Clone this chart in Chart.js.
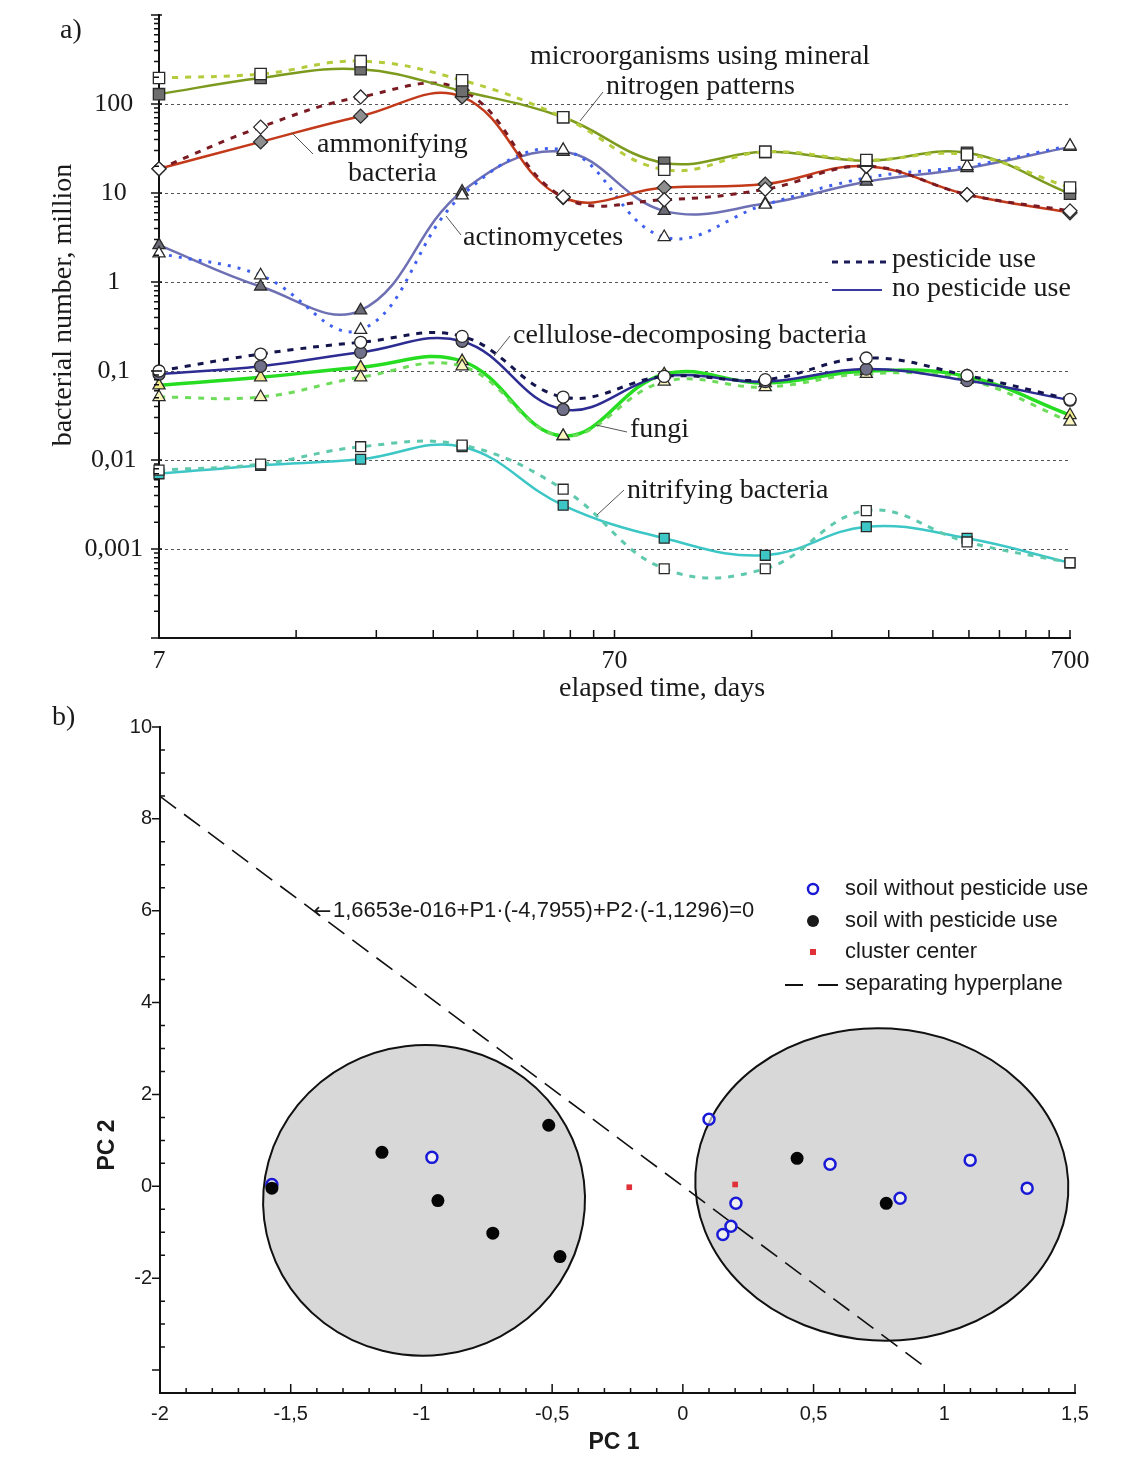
<!DOCTYPE html>
<html>
<head>
<meta charset="utf-8">
<script src="https://cdn.jsdelivr.net/npm/chart.js@4.4.1/dist/chart.umd.min.js"></script>
<style>
  body { margin: 0; background: #fff; }
  .wrap { position: absolute; left: 0; width: 1143px; }
  #wrapA { top: 0; height: 705px; }
  #wrapB { top: 705px; height: 752px; }
</style>
</head>
<body>
<div class="wrap" id="wrapA"><canvas id="growthChart" width="1143" height="705"></canvas></div>
<div class="wrap" id="wrapB"><canvas id="pcaChart" width="1143" height="752"></canvas></div>
<script>
// ---------- a) bacterial number vs elapsed time ----------
const days = [7, 11.7, 19.4, 32.4, 54, 90, 150, 250, 416, 700];

const mineralNo   = [129, 196, 246, 140, 71, 21.8, 29, 23, 28.3, 9.8];
const mineralPest = [196, 217, 303, 185, 71, 18.3, 29, 23.5, 27, 11.5];
const ammonNo     = [18.7, 37.5, 73, 120, 8.9, 11.5, 12.6, 20, 9.6, 6.0];
const ammonPest   = [18.7, 55, 120, 143, 9, 8.4, 11, 20, 9.6, 6.3];
const actinoNo    = [2.6, 0.89, 0.48, 10.4, 29, 6.3, 7.6, 13.4, 19, 33];
const actinoPest  = [2.1, 1.19, 0.29, 9.4, 30.5, 3.2, 7.4, 14.8, 20, 34];
const celluNo     = [0.092, 0.113, 0.162, 0.216, 0.037, 0.087, 0.076, 0.105, 0.078, 0.047];
const celluPest   = [0.1, 0.155, 0.21, 0.245, 0.051, 0.087, 0.08, 0.14, 0.089, 0.048];
const fungiNo     = [0.069, 0.085, 0.11, 0.129, 0.0186, 0.092, 0.073, 0.1, 0.087, 0.032];
const fungiPest   = [0.051, 0.051, 0.085, 0.113, 0.0186, 0.076, 0.066, 0.093, 0.08, 0.027];
const nitriNo     = [0.007, 0.0087, 0.0102, 0.0141, 0.0031, 0.00132, 0.00085, 0.00178, 0.00132, 0.0007];
const nitriPest   = [0.0077, 0.009, 0.0141, 0.0147, 0.0047, 0.0006, 0.0006, 0.0027, 0.0012, 0.0007];

const dayTicks = [7, 70, 700];
const dayMinorTicks = [14, 21, 28, 35, 42, 49, 56, 63, 140, 210, 280, 350, 420, 490, 560, 630];
const countTicks = [0.001, 0.01, 0.1, 1, 10, 100];
const countTickLabels = ['0,001', '0,01', '0,1', '1', '10', '100'];

// ---------- b) PCA ----------
const withoutP1 = [-1.572, -0.96, 0.1, 0.203, 0.184, 0.153, 0.563, 0.831, 1.099, 1.317];
const withoutP2 = [0.04, 0.63, 1.46, -0.37, -0.87, -1.05, 0.48, -0.26, 0.57, -0.04];
const withP1 = [-1.572, -1.151, -0.937, -0.727, -0.513, -0.47, 0.437, 0.778];
const withP2 = [-0.04, 0.74, -0.31, -1.02, 1.33, -1.53, 0.61, -0.37];
const centerP1 = [-0.205, 0.2];
const centerP2 = [-0.02, 0.04];
const planeCoef = [1.6653e-16, -4.7955, -1.1296];   // b0 + b1*P1 + b2*P2 = 0
const planeP1 = [-2, 0.92];
const pcaXTicks = [-2, -1.5, -1, -0.5, 0, 0.5, 1, 1.5];
const pcaYTicks = [-2, 0, 2, 4, 6, 8, 10];

const serif = 'Liberation Serif, Times New Roman, serif';
const sans = 'Liberation Sans, Arial, sans-serif';

function series(values) {
    return days.map((d, i) => ({ x: d, y: values[i] }));
}

function pair(no, pest, o) {
    const common = { fill: false, tension: 0.4, clip: false, pointBorderColor: '#2a2a2a', pointBorderWidth: 1.3, pointStyle: o.marker, pointRadius: o.radius, pointHoverRadius: o.radius };
    return [
        Object.assign({}, common, {
            label: 'pesticide use', data: series(pest),
            borderColor: o.pestColor, borderWidth: 3, borderDash: o.dash || [6, 7],
            pointBackgroundColor: o.openFill || '#ffffff'
        }),
        Object.assign({}, common, {
            label: 'no pesticide use', data: series(no),
            borderColor: o.color, borderWidth: o.width || 2.5,
            pointBackgroundColor: o.fill
        })
    ];
}

const growthDatasets = [
    ...pair(mineralNo, mineralPest, { marker: 'rect', radius: 8, color: '#7c9a1e', pestColor: '#b4cc3c', fill: '#6e6e6e' }),
    ...pair(ammonNo, ammonPest, { marker: 'rectRot', radius: 7, color: '#c23a1a', pestColor: '#7a1a22', fill: '#8e8e8e' }),
    ...pair(actinoNo, actinoPest, { marker: 'triangle', radius: 7, color: '#6e70b4', pestColor: '#3f5ff0', fill: '#6c6c78', dash: [3, 7] }),
    ...pair(celluNo, celluPest, { marker: 'circle', radius: 6, color: '#2c2c92', pestColor: '#15154e', fill: '#70708a' }),
    ...pair(fungiNo, fungiPest, { marker: 'triangle', radius: 7, color: '#26dd22', pestColor: '#6cdc5a', fill: '#f2eb8a', openFill: '#fbf6c0', width: 3.5 }),
    ...pair(nitriNo, nitriPest, { marker: 'rect', radius: 7, color: '#3cc6c6', pestColor: '#5fc9ae', fill: '#3cc6c6' })
];

function tickLines(ctx, pts) {
    ctx.beginPath();
    pts.forEach(p => { ctx.moveTo(p[0], p[1]); ctx.lineTo(p[2], p[3]); });
    ctx.stroke();
}

function leader(ctx, x1, y1, x2, y2) {
    ctx.beginPath();
    ctx.moveTo(x1, y1);
    ctx.lineTo(x2, y2);
    ctx.stroke();
}

const growthDecor = {
    id: 'growthDecor',
    beforeDatasetsDraw(chart) {
        const { ctx, chartArea, scales: { y } } = chart;
        ctx.save();
        ctx.strokeStyle = '#555';
        ctx.lineWidth = 1;
        ctx.setLineDash([3, 3]);
        countTicks.forEach(v => {
            const py = Math.round(y.getPixelForValue(v)) + 0.5;
            ctx.beginPath();
            ctx.moveTo(chartArea.left, py);
            ctx.lineTo(chartArea.right, py);
            ctx.stroke();
        });
        ctx.restore();
    },
    afterDraw(chart) {
        const { ctx, chartArea, scales: { x, y } } = chart;
        ctx.save();
        ctx.strokeStyle = '#111';
        ctx.lineWidth = 1.5;
        // x ticks (pointing up)
        const xt = [];
        dayTicks.concat(dayMinorTicks).forEach(v => {
            const px = x.getPixelForValue(v);
            xt.push([px, chartArea.bottom, px, chartArea.bottom - 8]);
        });
        tickLines(ctx, xt);
        // y ticks: decades and minor
        const yt = [];
        for (let e = -4; e <= 3; e++) {
            const py = y.getPixelForValue(Math.pow(10, e));
            yt.push([chartArea.left - 8, py, chartArea.left + 3, py]);
            if (e < 3) {
                for (let m = 2; m <= 9; m++) {
                    const pm = y.getPixelForValue(m * Math.pow(10, e));
                    yt.push([chartArea.left - 5, pm, chartArea.left, pm]);
                }
            }
        }
        tickLines(ctx, yt);

        // white box behind the legend
        ctx.fillStyle = '#ffffff';
        ctx.fillRect(828, 276, 246, 26);

        ctx.fillStyle = '#1a1a1a';
        ctx.textBaseline = 'middle';
        ctx.textAlign = 'left';
        ctx.font = '28px ' + serif;
        ctx.fillText('a)', 60, 31);

        ctx.fillText('microorganisms using mineral', 530, 57);
        ctx.fillText('nitrogen patterns', 606, 87);
        ctx.fillText('ammonifying', 317, 145);
        ctx.fillText('bacteria', 348, 174);
        ctx.fillText('actinomycetes', 463, 238);
        ctx.fillText('cellulose-decomposing bacteria', 513, 336);
        ctx.fillText('fungi', 630, 430);
        ctx.fillText('nitrifying bacteria', 627, 491);
        ctx.fillText('pesticide use', 892, 260);
        ctx.fillText('no pesticide use', 892, 289);

        ctx.strokeStyle = '#555';
        ctx.lineWidth = 1;
        leader(ctx, 603, 92, 580, 121);
        leader(ctx, 313, 154, 292, 133);
        leader(ctx, 461, 235, 446, 216);
        leader(ctx, 510, 336, 494, 356);
        leader(ctx, 627, 432, 596, 425);
        leader(ctx, 624, 490, 597, 515);

        // legend lines
        ctx.lineWidth = 3;
        ctx.strokeStyle = '#1c1c5c';
        ctx.setLineDash([6, 6]);
        leader(ctx, 832, 262, 888, 262);
        ctx.setLineDash([]);
        ctx.lineWidth = 2;
        ctx.strokeStyle = '#3a3aa0';
        leader(ctx, 832, 290, 882, 290);

        // axis titles
        ctx.textAlign = 'center';
        ctx.fillText('elapsed time, days', 662, 689);
        ctx.translate(64, 305);
        ctx.rotate(-Math.PI / 2);
        ctx.fillText('bacterial number, million', 0, 0);
        ctx.restore();
    }
};

new Chart(document.getElementById('growthChart'), {
    type: 'line',
    data: { datasets: growthDatasets },
    options: {
        responsive: false,
        animation: false,
        devicePixelRatio: 1,
        layout: { padding: { left: 0, top: 15, right: 73, bottom: 0 } },
        plugins: { legend: { display: false }, tooltip: { enabled: false } },
        scales: {
            x: {
                type: 'logarithmic', min: 7, max: 700,
                afterBuildTicks: s => { s.ticks = dayTicks.map(v => ({ value: v })); },
                afterFit: s => { s.height = 67; },
                ticks: { callback: v => String(v), font: { family: serif, size: 26 }, color: '#1a1a1a', padding: 8, maxRotation: 0, autoSkip: false },
                grid: { display: false, drawTicks: false },
                border: { display: true, color: '#111', width: 2 }
            },
            y: {
                type: 'logarithmic', min: 0.0001, max: 1000,
                afterBuildTicks: s => { s.ticks = countTicks.map(v => ({ value: v })); },
                afterFit: s => { s.width = 159; s.paddingTop = 0; s.paddingBottom = 0; },
                ticks: {
                    callback: v => countTickLabels[countTicks.findIndex(d => Math.abs(Math.log10(d) - Math.log10(v)) < 1e-6)],
                    font: { family: serif, size: 26 }, color: '#1a1a1a', padding: 16, crossAlign: 'center', autoSkip: false
                },
                grid: { display: false, drawTicks: false },
                border: { display: true, color: '#111', width: 2 }
            }
        }
    },
    plugins: [growthDecor]
});

// ---------- b) chart ----------
const leftCluster = { cx: -0.99, cy: -0.305, rx: 0.616, ry: 3.38, rot: -0.12 };
const rightCluster = { cx: 0.761, cy: 0.04, rx: 0.714, ry: 3.4, rot: 0.06 };

function points(xs, ys) {
    return xs.map((v, i) => ({ x: v, y: ys[i] }));
}

const planeLine = planeP1.map(p => ({ x: p, y: -(planeCoef[0] + planeCoef[1] * p) / planeCoef[2] }));

const pcaDecor = {
    id: 'pcaDecor',
    beforeDatasetsDraw(chart) {
        const { ctx, scales: { x, y } } = chart;
        ctx.save();
        [leftCluster, rightCluster].forEach(c => {
            const cx = x.getPixelForValue(c.cx);
            const cy = y.getPixelForValue(c.cy);
            const rx = Math.abs(x.getPixelForValue(c.cx + c.rx) - cx);
            const ry = Math.abs(y.getPixelForValue(c.cy + c.ry) - cy);
            ctx.beginPath();
            ctx.ellipse(cx, cy, rx, ry, c.rot, 0, Math.PI * 2);
            ctx.fillStyle = '#d8d8d8';
            ctx.fill();
            ctx.lineWidth = 2;
            ctx.strokeStyle = '#111';
            ctx.stroke();
        });
        ctx.restore();
    },
    afterDraw(chart) {
        const { ctx, chartArea, scales: { x, y } } = chart;
        ctx.save();
        ctx.strokeStyle = '#111';
        ctx.lineWidth = 1.5;
        const xt = [];
        for (let i = 0; i <= 35; i++) {
            const v = -2 + i * 0.1;
            const px = x.getPixelForValue(v);
            xt.push([px, chartArea.bottom, px, chartArea.bottom - (i % 5 === 0 ? 9 : 5)]);
        }
        tickLines(ctx, xt);
        const yt = [];
        for (let i = 0; i <= 29; i++) {
            const v = -4.5 + i * 0.5;
            const py = y.getPixelForValue(v);
            if (i % 4 === 1) yt.push([chartArea.left - 8, py, chartArea.left, py]);
            else yt.push([chartArea.left, py, chartArea.left + 5, py]);
        }
        tickLines(ctx, yt);

        ctx.fillStyle = '#1a1a1a';
        ctx.textBaseline = 'middle';
        ctx.textAlign = 'left';
        ctx.font = '28px ' + serif;
        ctx.fillText('b)', 52, 13);

        ctx.font = '22px DejaVu Sans, sans-serif';
        ctx.fillText('\u2190', 313, 207);
        ctx.font = '22px ' + sans;
        ctx.fillText('1,6653e-016+P1\u00b7(-4,7955)+P2\u00b7(-1,1296)=0', 333, 206);

        // legend
        ctx.fillText('soil without pesticide use', 845, 184);
        ctx.fillText('soil with pesticide use', 845, 216);
        ctx.fillText('cluster center', 845, 247);
        ctx.fillText('separating hyperplane', 845, 279);
        ctx.beginPath();
        ctx.arc(813, 184, 5, 0, Math.PI * 2);
        ctx.lineWidth = 2.5;
        ctx.strokeStyle = '#1a1ad6';
        ctx.stroke();
        ctx.beginPath();
        ctx.arc(813, 216, 6, 0, Math.PI * 2);
        ctx.fill();
        ctx.fillStyle = '#e03038';
        ctx.fillRect(810, 244, 6, 6);
        ctx.strokeStyle = '#111';
        ctx.lineWidth = 2;
        leader(ctx, 785, 280, 803, 280);
        leader(ctx, 818, 280, 838, 280);

        ctx.fillStyle = '#1a1a1a';
        ctx.textAlign = 'center';
        ctx.font = 'bold 23px ' + sans;
        ctx.fillText('PC 1', 614, 738);
        ctx.translate(108, 440);
        ctx.rotate(-Math.PI / 2);
        ctx.fillText('PC 2', 0, 0);
        ctx.restore();
    }
};

new Chart(document.getElementById('pcaChart'), {
    type: 'scatter',
    data: {
        datasets: [
            { label: 'separating hyperplane', type: 'line', data: planeLine, showLine: true, borderColor: '#111', borderWidth: 1.6, borderDash: [20, 10], pointRadius: 0, fill: false, order: 4 },
            { label: 'soil without pesticide use', data: points(withoutP1, withoutP2), pointStyle: 'circle', pointRadius: 5.5, pointBorderWidth: 2.5, pointBorderColor: '#1a1ad6', pointBackgroundColor: 'rgba(255,255,255,0.6)', order: 3, clip: false },
            { label: 'soil with pesticide use', data: points(withP1, withP2), pointStyle: 'circle', pointRadius: 6.5, pointBorderWidth: 0, pointBackgroundColor: '#050505', order: 2, clip: false },
            { label: 'cluster center', data: points(centerP1, centerP2), pointStyle: 'rect', pointRadius: 4, pointBorderWidth: 0, pointBackgroundColor: '#e03038', order: 1 }
        ]
    },
    options: {
        responsive: false,
        animation: false,
        devicePixelRatio: 1,
        layout: { padding: { left: 0, top: 22, right: 68, bottom: 0 } },
        plugins: { legend: { display: false }, tooltip: { enabled: false } },
        scales: {
            x: {
                type: 'linear', min: -2, max: 1.5,
                afterBuildTicks: s => { s.ticks = pcaXTicks.map(v => ({ value: v })); },
                afterFit: s => { s.height = 64; },
                ticks: { callback: v => String(v).replace('.', ','), font: { family: sans, size: 20 }, color: '#1a1a1a', padding: 9, maxRotation: 0, autoSkip: false },
                grid: { display: false, drawTicks: false },
                border: { display: true, color: '#111', width: 2 }
            },
            y: {
                type: 'linear', min: -4.5, max: 10,
                afterBuildTicks: s => { s.ticks = pcaYTicks.map(v => ({ value: v })); },
                afterFit: s => { s.width = 160; },
                ticks: { callback: v => String(v), font: { family: sans, size: 20 }, color: '#1a1a1a', padding: 8, autoSkip: false },
                grid: { display: false, drawTicks: false },
                border: { display: true, color: '#111', width: 2 }
            }
        }
    },
    plugins: [pcaDecor]
});
</script>
</body>
</html>
